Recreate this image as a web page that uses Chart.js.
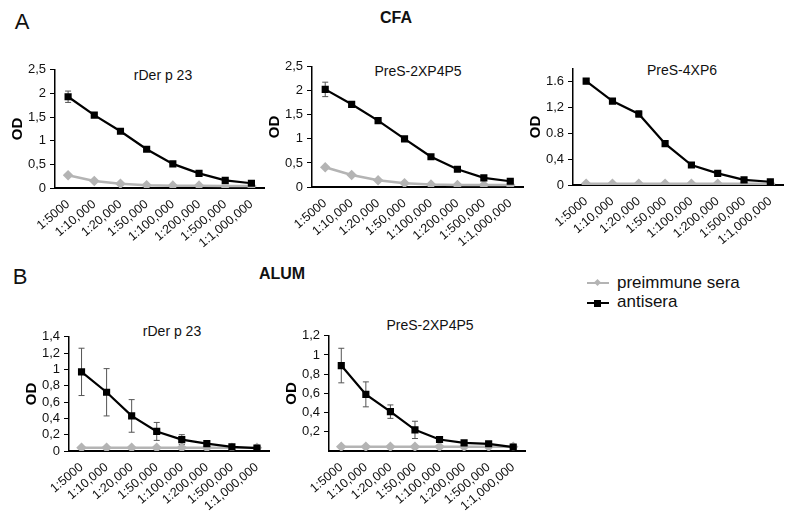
<!DOCTYPE html>
<html>
<head>
<meta charset="utf-8">
<script src="https://cdn.jsdelivr.net/npm/chart.js@4"></script>
<style>
  body { margin: 0; background: #fff; width: 800px; height: 511px; overflow: hidden; position: relative; font-family: "Liberation Sans", Arial, sans-serif; }
  canvas { position: absolute; }
  .txt { position: absolute; transform: translate(-50%, -50%); white-space: nowrap; color: #111; }
  .leg { position: absolute; font-size: 17px; color: #111; white-space: nowrap; transform: translateY(-50%); }
  .legline { position: absolute; height: 0; }
  .legmark { position: absolute; }
</style>
</head>
<body>
<div class="txt" style="left:22px;top:22px;font-size:22px;">A</div>
<div class="txt" style="left:20px;top:277px;font-size:22px;">B</div>
<div class="txt" style="left:396px;top:18px;font-size:16px;font-weight:bold;">CFA</div>
<div class="txt" style="left:282px;top:274px;font-size:16px;font-weight:bold;">ALUM</div>

<div class="txt" style="left:163px;top:75px;font-size:14px;">rDer p 23</div>
<div class="txt" style="left:418px;top:71px;font-size:14px;">PreS-2XP4P5</div>
<div class="txt" style="left:682px;top:70px;font-size:14px;">PreS-4XP6</div>
<div class="txt" style="left:172px;top:331px;font-size:14px;">rDer p 23</div>
<div class="txt" style="left:430px;top:325px;font-size:14px;">PreS-2XP4P5</div>

<!-- legend -->
<div class="legline" style="left:587px;top:282px;width:22px;border-top:2.5px solid #b4b4b4;"></div>
<div class="legmark" style="left:595px;top:280px;width:5px;height:5px;background:#b4b4b4;transform:rotate(45deg);"></div>
<div class="leg" style="left:617px;top:283px;">preimmune sera</div>
<div class="legline" style="left:587px;top:302px;width:22px;border-top:2.5px solid #000;"></div>
<div class="legmark" style="left:594px;top:300px;width:7px;height:7px;background:#000;"></div>
<div class="leg" style="left:617px;top:302px;">antisera</div>

<canvas id="c1"></canvas>
<canvas id="c2"></canvas>
<canvas id="c3"></canvas>
<canvas id="c4"></canvas>
<canvas id="c5"></canvas>

<script>
// dilutions on the x axis
const dilutions = ['1:5000', '1:10,000', '1:20,000', '1:50,000', '1:100,000', '1:200,000', '1:500,000', '1:1,000,000'];

// CFA - rDer p 23
const cfaDerAnti = [1.93, 1.54, 1.20, 0.82, 0.51, 0.31, 0.16, 0.10];
const cfaDerAntiErr = [0.12, 0.03, 0.03, 0.04, 0.02, 0.02, 0.02, 0.02];
const cfaDerPre = [0.27, 0.15, 0.09, 0.06, 0.05, 0.05, 0.04, 0.04];

// CFA - PreS-2XP4P5
const cfaP4P5Anti = [2.03, 1.72, 1.38, 1.00, 0.63, 0.37, 0.19, 0.12];
const cfaP4P5AntiErr = [0.15, 0.04, 0.03, 0.05, 0.03, 0.02, 0.02, 0.02];
const cfaP4P5Pre = [0.41, 0.25, 0.14, 0.08, 0.05, 0.04, 0.04, 0.04];

// CFA - PreS-4XP6
const cfaP6Anti = [1.61, 1.30, 1.10, 0.64, 0.31, 0.18, 0.08, 0.05];
const cfaP6AntiErr = [0.04, 0.02, 0.05, 0.03, 0.02, 0.02, 0.02, 0.01];
const cfaP6Pre = [0.02, 0.02, 0.02, 0.02, 0.02, 0.02, 0.02, 0.02];

// ALUM - rDer p 23
const alumDerAnti = [0.97, 0.72, 0.43, 0.24, 0.14, 0.09, 0.05, 0.035];
const alumDerAntiErr = [0.29, 0.29, 0.20, 0.11, 0.06, 0.02, 0.01, 0.01];
const alumDerPre = [0.04, 0.04, 0.04, 0.04, 0.04, 0.04, 0.04, 0.04];

// ALUM - PreS-2XP4P5
const alumP4P5Anti = [0.89, 0.59, 0.41, 0.22, 0.12, 0.085, 0.075, 0.04];
const alumP4P5AntiErr = [0.18, 0.13, 0.07, 0.09, 0.02, 0.01, 0.01, 0.01];
const alumP4P5Pre = [0.045, 0.045, 0.045, 0.045, 0.045, 0.045, 0.045, 0.045];

// y tick values and their labels (as printed in the figure)
const ticksCfaDer = [0, 0.5, 1, 1.5, 2, 2.5];
const labelsCfaDer = ['0', '0,5', '1', '1,5', '2', '2,5'];
const ticksCfaP6 = [0, 0.4, 0.8, 1.2, 1.6];
const labelsCfaP6 = ['0', '0,4', '0.8', '1,2', '1.6'];
const ticksAlumDer = [0, 0.2, 0.4, 0.6, 0.8, 1, 1.2, 1.4];
const labelsAlumDer = ['0', '0,2', '0,4', '0,6', '0,8', '1', '1,2', '1,4'];
const ticksAlumP4P5 = [0.2, 0.4, 0.6, 0.8, 1, 1.2];
const labelsAlumP4P5 = ['0,2', '0,4', '0,6', '0,8', '1', '1,2'];

const FONT = '"Liberation Sans", Arial, sans-serif';
const Y_W = 55;   // fixed width of the y axis box
const X_H = 60;   // fixed height of the x axis box
const PAD_TOP = 10;

// simple error bar plugin, reads dataset.errors
const errorBars = {
    id: 'errorBars',
    beforeDatasetsDraw(chart) {
        const ctx = chart.ctx;
        const y = chart.scales.y;
        chart.data.datasets.forEach((ds, i) => {
            if (!ds.errors) return;
            const meta = chart.getDatasetMeta(i);
            ctx.save();
            ctx.strokeStyle = '#555';
            ctx.lineWidth = 1;
            meta.data.forEach((pt, j) => {
                const e = ds.errors[j];
                if (!e) return;
                const yt = y.getPixelForValue(ds.data[j] + e);
                const yb = y.getPixelForValue(ds.data[j] - e);
                ctx.beginPath();
                ctx.moveTo(pt.x, yt); ctx.lineTo(pt.x, yb);
                ctx.moveTo(pt.x - 3, yt); ctx.lineTo(pt.x + 3, yt);
                ctx.moveTo(pt.x - 3, yb); ctx.lineTo(pt.x + 3, yb);
                ctx.stroke();
            });
            ctx.restore();
        });
    }
};

// axisX = pixel of y axis line, right = right end of x axis, top/bottom = y range in px
function makeChart(id, box, anti, antiErr, pre, yMax, yTicks, yLabels) {
    const canvas = document.getElementById(id);
    const left = box.axisX - Y_W;
    const top = box.top - PAD_TOP;
    canvas.width = box.right - left;
    canvas.height = PAD_TOP + (box.bottom - box.top) + X_H;
    canvas.style.left = left + 'px';
    canvas.style.top = top + 'px';

    return new Chart(canvas, {
        type: 'line',
        data: {
            labels: dilutions,
            datasets: [{
                label: 'antisera',
                data: anti,
                errors: antiErr,
                borderColor: '#000',
                backgroundColor: '#000',
                borderWidth: 2.2,
                pointStyle: 'rect',
                pointRadius: 3.5,
                tension: 0,
                order: 0
            }, {
                label: 'preimmune sera',
                data: pre,
                borderColor: '#b4b4b4',
                backgroundColor: '#b4b4b4',
                borderWidth: 2.5,
                pointStyle: 'rectRot',
                pointRadius: 3.5,
                tension: 0,
                order: 1
            }]
        },
        options: {
            responsive: false,
            animation: false,
            layout: { padding: { top: PAD_TOP, left: 0, right: 0, bottom: 0 } },
            plugins: { legend: { display: false }, tooltip: { enabled: false } },
            scales: {
                x: {
                    offset: true,
                    grid: { display: false },
                    border: { display: true, color: '#000', width: 2 },
                    ticks: {
                        autoSkip: false, maxRotation: 40, minRotation: 40,
                        color: '#111', padding: 1,
                        font: { family: FONT, size: 12.5 }
                    },
                    afterFit: s => { s.height = X_H; }
                },
                y: {
                    min: 0,
                    max: yMax,
                    afterBuildTicks: s => { s.ticks = yTicks.map(v => ({ value: v })); },
                    ticks: {
                        autoSkip: false,
                        color: '#111', padding: 4,
                        font: { family: FONT, size: 13 },
                        callback: v => yLabels[yTicks.indexOf(v)]
                    },
                    grid: { drawOnChartArea: false, tickLength: 5, color: '#000', lineWidth: 1 },
                    border: { display: true, color: '#000', width: 1.5 },
                    title: {
                        display: true, text: 'OD', color: '#000',
                        font: { family: FONT, size: 15, weight: 'bold', lineHeight: 1.2 },
                        padding: { top: 9, bottom: 0 }
                    },
                    afterFit: s => { s.width = Y_W; }
                }
            }
        },
        plugins: [errorBars]
    });
}

makeChart('c1', { axisX: 55, right: 271, top: 68, bottom: 188 }, cfaDerAnti, cfaDerAntiErr, cfaDerPre, 2.5, ticksCfaDer, labelsCfaDer);
makeChart('c2', { axisX: 312, right: 530, top: 65, bottom: 187 }, cfaP4P5Anti, cfaP4P5AntiErr, cfaP4P5Pre, 2.5, ticksCfaDer, labelsCfaDer);
makeChart('c3', { axisX: 573, right: 790, top: 67, bottom: 185 }, cfaP6Anti, cfaP6AntiErr, cfaP6Pre, 1.8, ticksCfaP6, labelsCfaP6);
makeChart('c4', { axisX: 69, right: 276, top: 335, bottom: 451 }, alumDerAnti, alumDerAntiErr, alumDerPre, 1.4, ticksAlumDer, labelsAlumDer);
makeChart('c5', { axisX: 329, right: 532, top: 334, bottom: 451 }, alumP4P5Anti, alumP4P5AntiErr, alumP4P5Pre, 1.2, ticksAlumP4P5, labelsAlumP4P5);
</script>
</body>
</html>
